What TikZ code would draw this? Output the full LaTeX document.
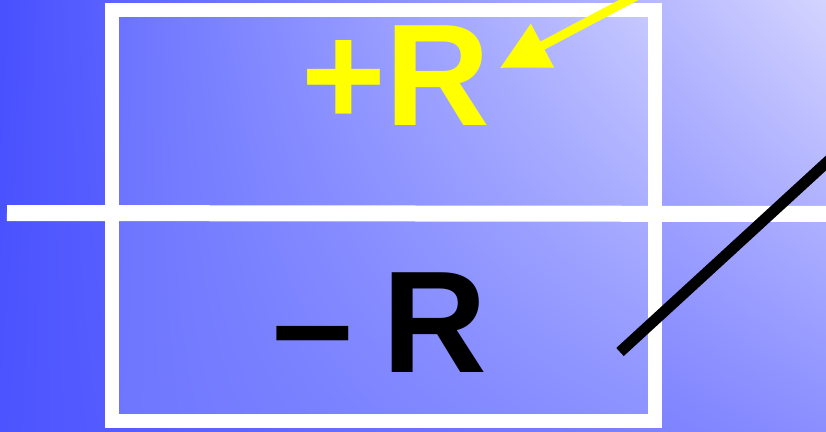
\documentclass[tikz,border=0pt]{standalone}
\usepackage{fontspec}
\setmainfont{Liberation Sans}
\usetikzlibrary{arrows.meta,shadings}
\definecolor{bgUL}{HTML}{4850FF}
\definecolor{bgUR}{HTML}{D4D4FF}
\definecolor{bgLL}{HTML}{4C54FF}
\definecolor{bgLR}{HTML}{8A8EFF}
\definecolor{bxUL}{HTML}{6A72FF}
\definecolor{bxUR}{HTML}{C8CAFF}
\definecolor{bxLL}{HTML}{6E76FF}
\definecolor{bxLR}{HTML}{8C92FF}
\definecolor{arrowyellow}{HTML}{FFFF00}
\begin{document}
\begin{tikzpicture}[x=1pt,y=-1pt,
  frame/.style={draw=white,line width=14pt},
  rule/.style={draw=white,line width=16pt},
  bigtext/.style={font=\fontsize{145}{150}\selectfont\bfseries,inner sep=0pt,outer sep=0pt,anchor=base west},
  pointer/.style={draw=arrowyellow,line width=9pt,-{Triangle[length=48pt,width=47pt]}},
  slash/.style={draw=black,line width=11pt}]
\useasboundingbox (0,0) rectangle (826,431);
\shade[upper left=bgUL,upper right=bgUR,lower left=bgLL,lower right=bgLR] (0,0) rectangle (826,431);
\shade[upper left=bxUL,upper right=bxUR,lower left=bxLL,lower right=bxLR] (112,10) rectangle (655,421);
\node[bigtext,text=arrowyellow] (plusR) at (301,125) {+R};
\node[bigtext,text=black] (minusR) at (272,372) {–\hspace{30pt}R};
\draw[frame] (112,10) rectangle (655,421);
\coordinate (ruleL) at (7,213);
\coordinate (ruleR) at (830,214);
\draw[rule] (ruleL) -- (ruleR);
\coordinate (slashA) at (620,352);
\coordinate (slashB) at (850,141);
\draw[slash] (slashA) -- (slashB);
\coordinate (arrowStart) at (640,-6);
\coordinate (arrowTip) at (500,68);
\draw[pointer] (arrowStart) -- (arrowTip);
\end{tikzpicture}
\end{document}
